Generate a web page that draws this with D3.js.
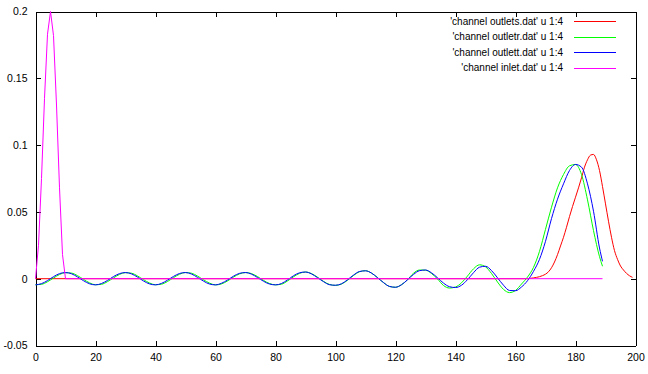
<!DOCTYPE html>
<html>
<head>
<meta charset="utf-8">
<script src="https://cdn.jsdelivr.net/npm/d3@7"></script>
<style>
  body { margin: 0; background: #fff; }
  svg text { font-family: "Liberation Sans", Arial, sans-serif; fill: #000; }
</style>
</head>
<body>
<div id="chart"></div>
<script>
// tick labels
const xTicks = [0, 20, 40, 60, 80, 100, 120, 140, 160, 180, 200];
const yTicks = [-0.05, 0, 0.05, 0.1, 0.15, 0.2];

// series names / colors (plot order)
const seriesNames = [
  "'channel outlets.dat' u 1:4",
  "'channel outletr.dat' u 1:4",
  "'channel outlett.dat' u 1:4",
  "'channel inlet.dat' u 1:4"
];
const seriesColors = ["#ff0000", "#00ff00", "#0000ff", "#ff00ff"];

// x grid shared by outletr / outlett
const oscX = d3.range(0, 189, 2).concat([189]);

// 'channel outlett.dat' (blue)
const outlettY = [
  -0.0046, -0.0037, -0.0014, 0.0015, 0.0038, 0.0046, 0.0037, 0.0013, -0.0015, -0.0038,
  -0.0046, -0.0036, -0.0013, 0.0016, 0.0038, 0.0046, 0.0036, 0.0012, -0.0017, -0.0039,
  -0.0046, -0.0035, -0.0011, 0.0017, 0.0039, 0.0046, 0.0035, 0.0010, -0.0018, -0.0040,
  -0.0046, -0.0034, -0.0010, 0.0019, 0.0040, 0.0046, 0.0034, 0.0009, -0.0019, -0.0040,
  -0.0046,
  -0.0036, -0.0009, 0.0022, 0.0044, 0.0050, 0.0036, 0.0008, -0.0022, -0.0045, -0.0049,
  -0.0038, -0.0008, 0.0027, 0.0054, 0.0059, 0.0042, 0.0008, -0.0029, -0.0058, -0.0064,
  -0.0045, -0.0008, 0.0032, 0.0060, 0.0065, 0.0044, 0.0007, -0.0033, -0.0060, -0.0066,
  -0.0049, -0.0007, 0.0045, 0.0086, 0.0093, 0.0061, 0.0007, -0.0049, -0.0088, -0.0090,
  -0.0062, -0.0015, 0.0055, 0.0145, 0.028, 0.045, 0.0595, 0.071, 0.081, 0.0855,
  0.0835, 0.071, 0.0505, 0.023,
  0.013
];

// 'channel outletr.dat' (green)
const outletrY = [
  -0.0045, -0.0042, -0.0023, 0.0005, 0.0031, 0.0045, 0.0042, 0.0023, -0.0005, -0.0031,
  -0.0045, -0.0042, -0.0022, 0.0006, 0.0032, 0.0045, 0.0041, 0.0021, -0.0007, -0.0032,
  -0.0045, -0.0041, -0.0021, 0.0008, 0.0033, 0.0046, 0.0041, 0.0020, -0.0008, -0.0033,
  -0.0046,
  -0.0039, -0.0017, 0.0012, 0.0036, 0.0046, 0.0038, 0.0016, -0.0013, -0.0036, -0.0046,
  -0.0041, -0.0017, 0.0014, 0.0040, 0.0050,
  0.0038, 0.0011, -0.0020, -0.0043, -0.0050, -0.0040, -0.0012, 0.0024, 0.0052, 0.0060,
  0.0042, 0.0008, -0.0029, -0.0058, -0.0064, -0.0045, -0.0008,
  0.0041, 0.0065, 0.0064, 0.0039, -0.0002,
  -0.0051, -0.0070, -0.0062, -0.0031, 0.0020, 0.0074, 0.0104, 0.0089, 0.0039, -0.0025,
  -0.0080, -0.0104,
  -0.0088, -0.0040, 0.0012, 0.0085, 0.0205, 0.037, 0.0535, 0.068, 0.078, 0.0845,
  0.0855, 0.078, 0.059, 0.036, 0.0165,
  0.0093
];

// 'channel outlets.dat' (red)
const outletsX = [0, 164, 165, 166, 167, 168, 169, 170, 171, 172, 173, 174, 175, 176, 177, 178,
  179, 180, 181, 182, 183, 184, 185, 186, 187, 188, 189, 190, 191, 192, 193, 194, 195, 196,
  197, 198, 199];
const outletsY = [0, 0, 0.0003, 0.0006, 0.001, 0.0015, 0.0023, 0.0034, 0.0052, 0.0082, 0.0125,
  0.018, 0.0245, 0.031, 0.0385, 0.0465, 0.054, 0.061, 0.068, 0.0755, 0.0835, 0.089, 0.0925,
  0.093, 0.089, 0.081, 0.069, 0.056, 0.043, 0.031, 0.021, 0.0145, 0.0095, 0.0065, 0.004,
  0.0022, 0.001];

// 'channel inlet.dat' (magenta)
const inletX = [0, 1, 2, 3, 4, 5, 6, 7, 8, 9, 10, 189];
const inletY = [0, 0.025, 0.075, 0.135, 0.183, 0.2, 0.182, 0.13, 0.068, 0.018, 0, 0];

const width = 648, height = 374;

const x = d3.scaleLinear().domain([0, 200]).range([35.5, 635.5]);
const y = d3.scaleLinear().domain([-0.05, 0.2]).range([345.5, 11.5]);

const svg = d3.select("#chart").append("svg")
  .attr("width", width)
  .attr("height", height);

const fmt = d => String(d);

// bottom / left axes with labels, ticks pointing inward
const gx = svg.append("g")
  .attr("transform", "translate(0," + y(-0.05) + ")")
  .call(d3.axisBottom(x).tickValues(xTicks).tickFormat(fmt).tickSize(-5).tickSizeOuter(0).tickPadding(8));

const gy = svg.append("g")
  .attr("transform", "translate(" + x(0) + ",0)")
  .call(d3.axisLeft(y).tickValues(yTicks).tickFormat(fmt).tickSize(-5).tickSizeOuter(0).tickPadding(8));

// mirrored top / right axes
svg.append("g")
  .attr("transform", "translate(0," + y(0.2) + ")")
  .call(d3.axisTop(x).tickValues(xTicks).tickFormat("").tickSize(-5).tickSizeOuter(0));

svg.append("g")
  .attr("transform", "translate(" + x(200) + ",0)")
  .call(d3.axisRight(y).tickValues(yTicks).tickFormat("").tickSize(-5).tickSizeOuter(0));

svg.selectAll(".domain, .tick line")
  .attr("stroke", "#000")
  .attr("shape-rendering", "crispEdges");

svg.selectAll(".tick text")
  .style("font-size", "10.5px");

// lines
const line = d3.line()
  .x(d => x(d[0]))
  .y(d => y(d[1]))
  .curve(d3.curveMonotoneX);

const series = [
  d3.zip(outletsX, outletsY),
  d3.zip(oscX, outletrY),
  d3.zip(oscX, outlettY),
  d3.zip(inletX, inletY)
];

svg.selectAll(".series")
  .data(series)
  .enter().append("path")
  .attr("class", "series")
  .attr("fill", "none")
  .attr("stroke", (d, i) => seriesColors[i])
  .attr("stroke-width", 1)
  .attr("d", (d, i) => i === 3 ? line.curve(d3.curveLinear)(d) : line.curve(d3.curveMonotoneX)(d));

// key
const key = svg.append("g");
const keyRows = [21, 36.5, 52, 67.5];

key.selectAll("text")
  .data(seriesNames)
  .enter().append("text")
  .attr("x", 563)
  .attr("y", (d, i) => keyRows[i])
  .attr("dy", "0.35em")
  .attr("text-anchor", "end")
  .style("font-size", "10px")
  .text(d => d);

key.selectAll("line")
  .data(seriesNames)
  .enter().append("line")
  .attr("x1", 574)
  .attr("x2", 616)
  .attr("y1", (d, i) => Math.round(keyRows[i]) + 0.5)
  .attr("y2", (d, i) => Math.round(keyRows[i]) + 0.5)
  .attr("stroke", (d, i) => seriesColors[i])
  .attr("shape-rendering", "crispEdges");
</script>
</body>
</html>
